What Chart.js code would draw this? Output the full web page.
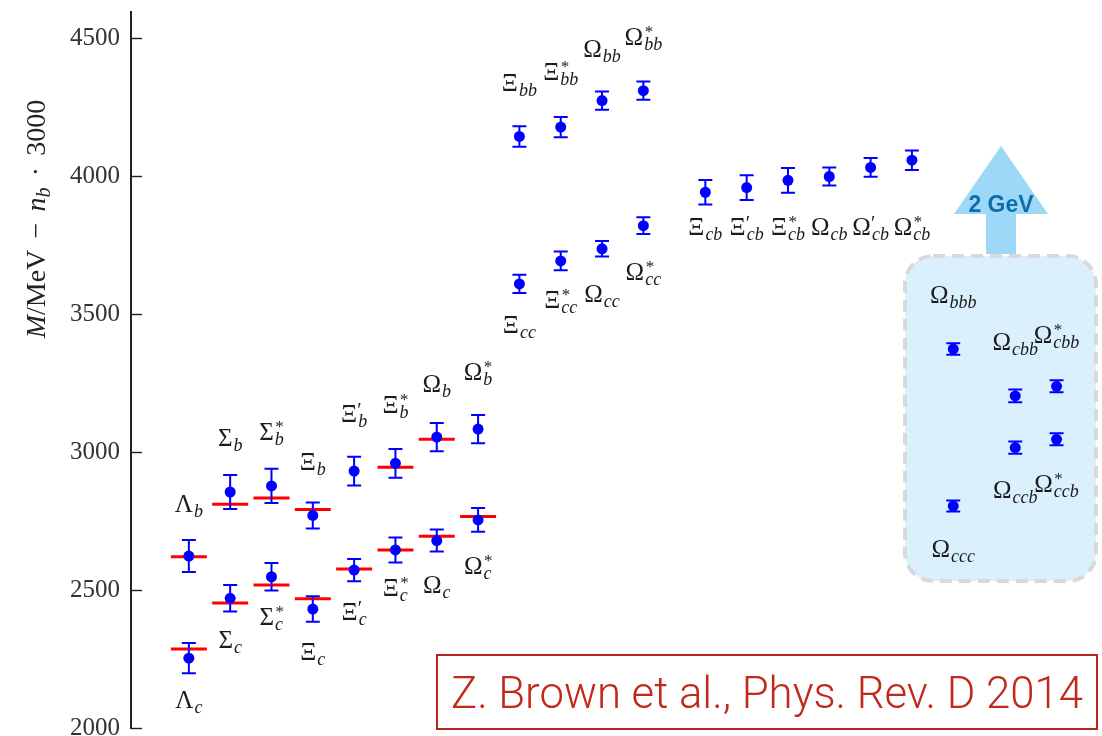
<!DOCTYPE html>
<html><head><meta charset="utf-8">
<script src="https://cdn.jsdelivr.net/npm/chart.js@4.4.1/dist/chart.umd.min.js"></script>
<style>html,body{margin:0;padding:0;background:#fff;}#wrap{width:1102px;height:736px;}</style>
</head><body><div id="wrap"><canvas id="c" width="1102" height="736"></canvas></div>
<script>
// ---------- data ----------
const yTicks = [2000, 2500, 3000, 3500, 4000, 4500];

// singly heavy baryons (charm row and bottom row share slots)
const singlyX     = [0, 1, 2, 3, 4, 5, 6, 7];
const singlyBase  = ['Λ', 'Σ', 'Σ', 'Ξ', 'Ξ', 'Ξ', 'Ω', 'Ω'];
const singlyMark  = ['', '', '*', '', '′', '*', '', '*'];
const bottomVal   = [2623, 2855, 2877, 2770, 2931, 2959, 3054, 3083];
const bottomErr   = [58, 62, 62, 47, 52, 52, 51, 51];
const bottomExp   = [2620, 2811, 2833, 2792, null, 2945, 3046, null];
const charmVal    = [2253, 2470, 2548, 2431, 2572, 2645, 2679, 2754];
const charmErr    = [55, 48, 50, 46, 40, 45, 40, 43];
const charmExp    = [2286, 2453, 2518, 2468, 2576, 2645, 2695, 2766];

// doubly heavy: bb and cc
const doublyX     = [8, 9, 10, 11];
const doublyBase  = ['Ξ', 'Ξ', 'Ω', 'Ω'];
const doublyMark  = ['', '*', '', '*'];
const bbVal       = [4143, 4177, 4273, 4309];
const bbErr       = [37, 37, 33, 33];
const ccVal       = [3609, 3692, 3736, 3820];
const ccErr       = [33, 34, 28, 30];

// cb baryons
const cbX         = [12.5, 13.5, 14.5, 15.5, 16.5, 17.5];
const cbBase      = ['Ξ', 'Ξ', 'Ξ', 'Ω', 'Ω', 'Ω'];
const cbMark      = ['', '′', '*', '', '′', '*'];
const cbVal       = [3941, 3958, 3984, 3998, 4031, 4057];
const cbErr       = [44, 45, 45, 33, 34, 35];

// triply heavy
const triplyX     = [18.5, 20, 21, 20, 21, 18.5];
const triplySub   = ['ccc', 'ccb', 'ccb', 'cbb', 'cbb', 'bbb'];
const triplyMark  = ['', '', '*', '', '*', ''];
const triplyVal   = [2804, 3016, 3046, 3203, 3238, 3373];
const triplyErr   = [20, 22, 22, 23, 22, 21];

// label baseline offsets (px, relative to the point) - layout only
const bottomLabelDy = [-44, -46, -46, -45, -49, -50, -45, -49];
const charmLabelDy  = [50, 50, 48, 51, 50, 46, 52, 54];
const bbLabelDy     = [-45, -47, -44, -46];
const ccLabelDy     = [49, 47, 53, 54];
const cbLabelDy     = [43, 47, 55, 58, 68, 75];
const triplyLabelDy = [51, 50, 53, -46, -43, -46];

// ---------- build point list ----------
const pts = [];
singlyX.forEach((x, i) => {
  pts.push({x, y: bottomVal[i], e: bottomErr[i], base: singlyBase[i], sub: 'b', mark: singlyMark[i], dy: bottomLabelDy[i]});
  pts.push({x, y: charmVal[i], e: charmErr[i], base: singlyBase[i], sub: 'c', mark: singlyMark[i], dy: charmLabelDy[i]});
});
doublyX.forEach((x, i) => {
  pts.push({x, y: bbVal[i], e: bbErr[i], base: doublyBase[i], sub: 'bb', mark: doublyMark[i], dy: bbLabelDy[i]});
  pts.push({x, y: ccVal[i], e: ccErr[i], base: doublyBase[i], sub: 'cc', mark: doublyMark[i], dy: ccLabelDy[i]});
});
cbX.forEach((x, i) => {
  pts.push({x, y: cbVal[i], e: cbErr[i], base: cbBase[i], sub: 'cb', mark: cbMark[i], dy: cbLabelDy[i]});
});
triplyX.forEach((x, i) => {
  pts.push({x, y: triplyVal[i], e: triplyErr[i], base: 'Ω', sub: triplySub[i], mark: triplyMark[i], dy: triplyLabelDy[i]});
});
const expPts = [];
singlyX.forEach((x, i) => {
  if (bottomExp[i] !== null) expPts.push({x, y: bottomExp[i]});
  if (charmExp[i] !== null) expPts.push({x, y: charmExp[i]});
});

const SERIF = '"Liberation Serif", "DejaVu Serif", serif';

// ---------- plugins ----------
const decor = {
  id: 'decor',
  beforeDatasetsDraw(chart) {
    const ctx = chart.ctx;
    ctx.save();
    // rounded box
    const bx = 905, by = 256, bw = 191, bh = 325, r = 28;
    ctx.beginPath();
    ctx.roundRect(bx, by, bw, bh, r);
    ctx.fillStyle = '#dbf0fd';
    ctx.fill();
    ctx.setLineDash([12, 7]);
    ctx.lineWidth = 4;
    ctx.strokeStyle = '#d9d9d9';
    ctx.stroke();
    ctx.setLineDash([]);
    // arrow
    ctx.fillStyle = '#9dd8f8';
    ctx.beginPath();
    ctx.moveTo(986, 254); ctx.lineTo(986, 214); ctx.lineTo(954, 214);
    ctx.lineTo(1001, 146); ctx.lineTo(1048, 214); ctx.lineTo(1016, 214);
    ctx.lineTo(1016, 254); ctx.closePath();
    ctx.fill();
    ctx.font = 'bold 23px "Liberation Sans", Arial, sans-serif';
    ctx.fillStyle = '#0d6eab';
    ctx.textAlign = 'center';
    ctx.textBaseline = 'alphabetic';
    ctx.fillText('2 GeV', 1001, 212);
    ctx.restore();
  },
  beforeDatasetDraw(chart, args) {
    if (args.index !== 0) return;
    const ctx = chart.ctx, xs = chart.scales.x, ys = chart.scales.y;
    ctx.save();
    ctx.strokeStyle = '#0000ff';
    ctx.lineWidth = 2;
    pts.forEach(p => {
      const px = xs.getPixelForValue(p.x);
      const y1 = ys.getPixelForValue(p.y + p.e), y2 = ys.getPixelForValue(p.y - p.e);
      ctx.beginPath();
      ctx.moveTo(px, y1); ctx.lineTo(px, y2);
      ctx.moveTo(px - 7, y1); ctx.lineTo(px + 7, y1);
      ctx.moveTo(px - 7, y2); ctx.lineTo(px + 7, y2);
      ctx.stroke();
    });
    ctx.restore();
  },
  afterDatasetsDraw(chart) {
    const ctx = chart.ctx, xs = chart.scales.x, ys = chart.scales.y;
    ctx.save();
    ctx.fillStyle = '#1c1c1c';
    ctx.textAlign = 'left';
    ctx.textBaseline = 'alphabetic';
    const fBase = '25px ' + SERIF, fSub = 'italic 18px ' + SERIF, fSup = '17px ' + SERIF, fPrime = '20px ' + SERIF;
    pts.forEach(p => {
      ctx.font = fBase; const wb = ctx.measureText(p.base).width;
      ctx.font = fSub; const ws = ctx.measureText(p.sub).width;
      const fm = p.mark === '′' ? fPrime : fSup;
      ctx.font = fm; const wm = p.mark ? ctx.measureText(p.mark).width : 0;
      const w = wb + 1 + Math.max(ws, wm);
      const cx = xs.getPixelForValue(p.x), by = ys.getPixelForValue(p.y) + p.dy;
      const x0 = cx - w / 2;
      ctx.font = fBase; ctx.fillText(p.base, x0, by);
      ctx.font = fSub; ctx.fillText(p.sub, x0 + wb + 1, by + 5);
      if (p.mark) {
        ctx.font = fm;
        ctx.fillText(p.mark, x0 + wb + (p.mark === '*' ? 1.5 : 0), by - (p.mark === '*' ? 8 : 5));
      }
    });
    ctx.restore();
  },
  afterDraw(chart) {
    const ctx = chart.ctx, ys = chart.scales.y, left = chart.chartArea.left;
    ctx.save();
    // inward tick marks
    ctx.strokeStyle = '#222';
    ctx.lineWidth = 1.4;
    yTicks.forEach(v => {
      const y = Math.round(ys.getPixelForValue(v)) + 0.5;
      ctx.beginPath(); ctx.moveTo(left, y); ctx.lineTo(left + 11, y); ctx.stroke();
    });
    // y axis title (rotated)
    const segs = [
      {t: 'M', f: 'italic 28px ' + SERIF, dy: 0},
      {t: '/MeV', f: '28px ' + SERIF, dy: 0},
      {t: '\u2009\u2009−\u2009\u2009', f: '28px ' + SERIF, dy: 0},
      {t: 'n', f: 'italic 28px ' + SERIF, dy: 0},
      {t: 'b', f: 'italic 20px ' + SERIF, dy: 5},
      {t: '\u2009\u2009·\u2009\u2009', f: '28px ' + SERIF, dy: 0},
      {t: '3000', f: '28px ' + SERIF, dy: 0}
    ];
    let tw = 0;
    segs.forEach(s => { ctx.font = s.f; s.w = ctx.measureText(s.t).width; tw += s.w; });
    ctx.translate(45, 219);
    ctx.rotate(-Math.PI / 2);
    ctx.fillStyle = '#222';
    ctx.textBaseline = 'alphabetic';
    ctx.textAlign = 'left';
    let x = -tw / 2;
    segs.forEach(s => { ctx.font = s.f; ctx.fillText(s.t, x, s.dy); x += s.w; });
    ctx.restore();
    // citation box
    ctx.save();
    ctx.strokeStyle = '#b5261c';
    ctx.lineWidth = 2;
    ctx.strokeRect(437, 655, 660, 74);
    ctx.fillStyle = '#c0291c';
    ctx.font = '300 44px Roboto, "Liberation Sans", sans-serif';
    ctx.textAlign = 'center';
    ctx.textBaseline = 'alphabetic';
    ctx.fillText('Z. Brown et al., Phys. Rev. D 2014', 767, 708, 632);
    ctx.restore();
  }
};

new Chart(document.getElementById('c'), {
  type: 'scatter',
  data: {
    datasets: [
      {label: 'lattice', data: pts.map(p => ({x: p.x, y: p.y})), pointRadius: 5.5, pointHoverRadius: 5.5,
       backgroundColor: '#0000ff', borderColor: '#0000ff', borderWidth: 0},
      {label: 'experiment', data: expPts, pointStyle: 'line', pointRadius: 18, pointHoverRadius: 18,
       borderColor: '#ff0000', backgroundColor: '#ff0000', borderWidth: 3}
    ]
  },
  options: {
    responsive: false,
    devicePixelRatio: 1,
    animation: false,
    layout: {autoPadding: false, padding: {top: 12, bottom: 8, left: 0, right: 0}},
    plugins: {legend: {display: false}, tooltip: {enabled: false}},
    scales: {
      x: {type: 'linear', display: false, min: -1.4, max: 22.1},
      y: {
        type: 'linear', min: 2000, max: 4594,
        grid: {display: false},
        border: {display: true, color: '#222', width: 2},
        ticks: {font: {family: SERIF, size: 25}, color: '#333', padding: 3, callback: v => String(v)},
        afterBuildTicks: s => { s.ticks = yTicks.map(v => ({value: v})); },
        afterFit: s => { s.width = 131; s.paddingTop = 0; s.paddingBottom = 0; }
      }
    }
  },
  plugins: [decor]
});
</script>
</body></html>
